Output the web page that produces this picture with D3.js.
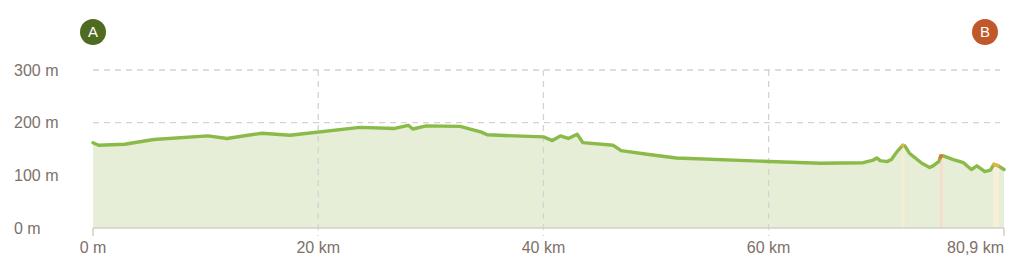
<!DOCTYPE html>
<html>
<head>
<meta charset="utf-8">
<script src="https://cdn.jsdelivr.net/npm/d3@7/dist/d3.min.js"></script>
<style>
  body { margin: 0; background: #fff; }
  svg { display: block; font-family: "Liberation Sans", Arial, sans-serif; }
</style>
</head>
<body>
<div id="chart"></div>
<script>
const distKm = [0, 0.5, 2.8, 5.4, 10.2, 11.9, 15.0, 17.5, 23.7, 26.8, 28.0, 28.4, 29.6, 32.6, 34.5, 35.0, 36.1,
  40.0, 40.8, 41.5, 42.2, 43.0, 43.5, 46.2, 46.9, 49.2, 51.8, 59.2, 64.6, 68.4, 69.3, 69.6, 69.9, 70.5, 70.9,
  71.4, 71.9, 72.1, 72.5, 72.9, 73.6, 74.3, 74.6, 75.1, 75.3, 75.5, 76.4, 77.3, 78.0, 78.5, 79.2, 79.7, 80.0,
  80.4, 80.9];
const elevM = [162, 157, 159, 168, 175, 170, 180, 176, 191, 189, 195, 188, 194, 193, 182, 177, 176,
  173, 166, 175, 170, 178, 162, 157, 147, 140, 133, 127, 123, 124, 129, 133, 128, 126, 130,
  145, 157, 156, 142, 135, 123, 115, 118, 126, 137, 137, 130, 124, 111, 118, 107, 110, 121,
  118, 111];

// tramos con pendiente fuerte
const steepFrom = [71.8, 75.2, 79.95];
const steepTo = [72.05, 75.45, 80.45];
const steepLine = ["#e9b04a", "#e8712e", "#e9b04a"];
const steepFill = ["#f8ecd4", "#f9dccb", "#f8efd9"];

const yTicks = [0, 100, 200, 300];
const xTicks = [0, 20, 40, 60, 80.9];
const xTickLabels = ["0 m", "20 km", "40 km", "60 km", "80,9 km"];

const width = 1024, height = 278;
const margin = { left: 93, right: 20, top: 70, bottom: 50 };

const svg = d3.select("#chart").append("svg")
  .attr("width", width).attr("height", height);

const x = d3.scaleLinear().domain([0, 80.9]).range([margin.left, width - margin.right]);
const y = d3.scaleLinear().domain([0, 300]).range([height - margin.bottom, margin.top]);

const pts = distKm.map((d, i) => ({ d, e: elevM[i] }));

// cuadrícula horizontal
svg.append("g").selectAll("line")
  .data(yTicks.filter(t => t > 0))
  .join("line")
  .attr("x1", x(0)).attr("x2", x(80.9) - 4)
  .attr("y1", d => y(d)).attr("y2", d => y(d))
  .attr("stroke", "#d5d3d0").attr("stroke-width", 1.3)
  .attr("stroke-dasharray", "6,5");

// área
const area = d3.area().x(p => x(p.d)).y0(y(0)).y1(p => y(p.e));
svg.append("path").datum(pts).attr("d", area).attr("fill", "#e6eed8");

// franjas de pendiente
const elevAt = d3.scaleLinear().domain(distKm).range(elevM);
steepFrom.forEach((s, i) => {
  const seg = d3.range(s, steepTo[i], 0.02).concat([steepTo[i]]).map(d => ({ d, e: elevAt(d) }));
  svg.append("path").datum(seg).attr("d", area).attr("fill", steepFill[i]);
});

// cuadrícula vertical
svg.append("g").selectAll("line")
  .data(xTicks.slice(1, 4))
  .join("line")
  .attr("x1", d => x(d)).attr("x2", d => x(d))
  .attr("y1", y(300)).attr("y2", y(0) + 8)
  .attr("stroke", "#d5d3d0").attr("stroke-width", 1.3)
  .attr("stroke-dasharray", "6,5");

// eje inferior
svg.append("line")
  .attr("x1", x(0)).attr("x2", x(80.9))
  .attr("y1", y(0)).attr("y2", y(0))
  .attr("stroke", "#d3cfca").attr("stroke-width", 1.5);
[0, 80.9].forEach(t => {
  svg.append("line")
    .attr("x1", x(t)).attr("x2", x(t))
    .attr("y1", y(0)).attr("y2", y(0) + 8)
    .attr("stroke", "#d3cfca").attr("stroke-width", 1.5);
});

// línea del perfil
const line = d3.line().x(p => x(p.d)).y(p => y(p.e));
svg.append("path").datum(pts).attr("d", line)
  .attr("fill", "none").attr("stroke", "#8aba48").attr("stroke-width", 3.4)
  .attr("stroke-linejoin", "round").attr("stroke-linecap", "round");

steepFrom.forEach((s, i) => {
  const seg = d3.range(s, steepTo[i], 0.02).concat([steepTo[i]]).map(d => ({ d, e: elevAt(d) }));
  svg.append("path").datum(seg).attr("d", line)
    .attr("fill", "none").attr("stroke", steepLine[i]).attr("stroke-width", 3.4);
});

// etiquetas
svg.append("g").selectAll("text")
  .data(yTicks)
  .join("text")
  .attr("x", 14).attr("y", d => y(d)).attr("dy", "0.35em")
  .attr("fill", "#7d7169").attr("font-size", 16)
  .text(d => d + " m");

svg.append("g").selectAll("text")
  .data(xTicks)
  .join("text")
  .attr("x", d => x(d)).attr("y", y(0) + 25)
  .attr("text-anchor", (d, i) => i === xTicks.length - 1 ? "end" : "middle")
  .attr("fill", "#7d7169").attr("font-size", 16)
  .text((d, i) => xTickLabels[i]);

// marcadores A / B
const markers = [
  { label: "A", cx: x(0), fill: "#4f6a21" },
  { label: "B", cx: x(80.9) - 19, fill: "#c1582a" }
];
const mk = svg.append("g").selectAll("g").data(markers).join("g")
  .attr("transform", d => `translate(${d.cx},32)`);
mk.append("circle").attr("r", 13).attr("fill", d => d.fill);
mk.append("text").attr("text-anchor", "middle").attr("dy", "0.36em")
  .attr("fill", "#fff").attr("font-size", 15)
  .text(d => d.label);
</script>
</body>
</html>
